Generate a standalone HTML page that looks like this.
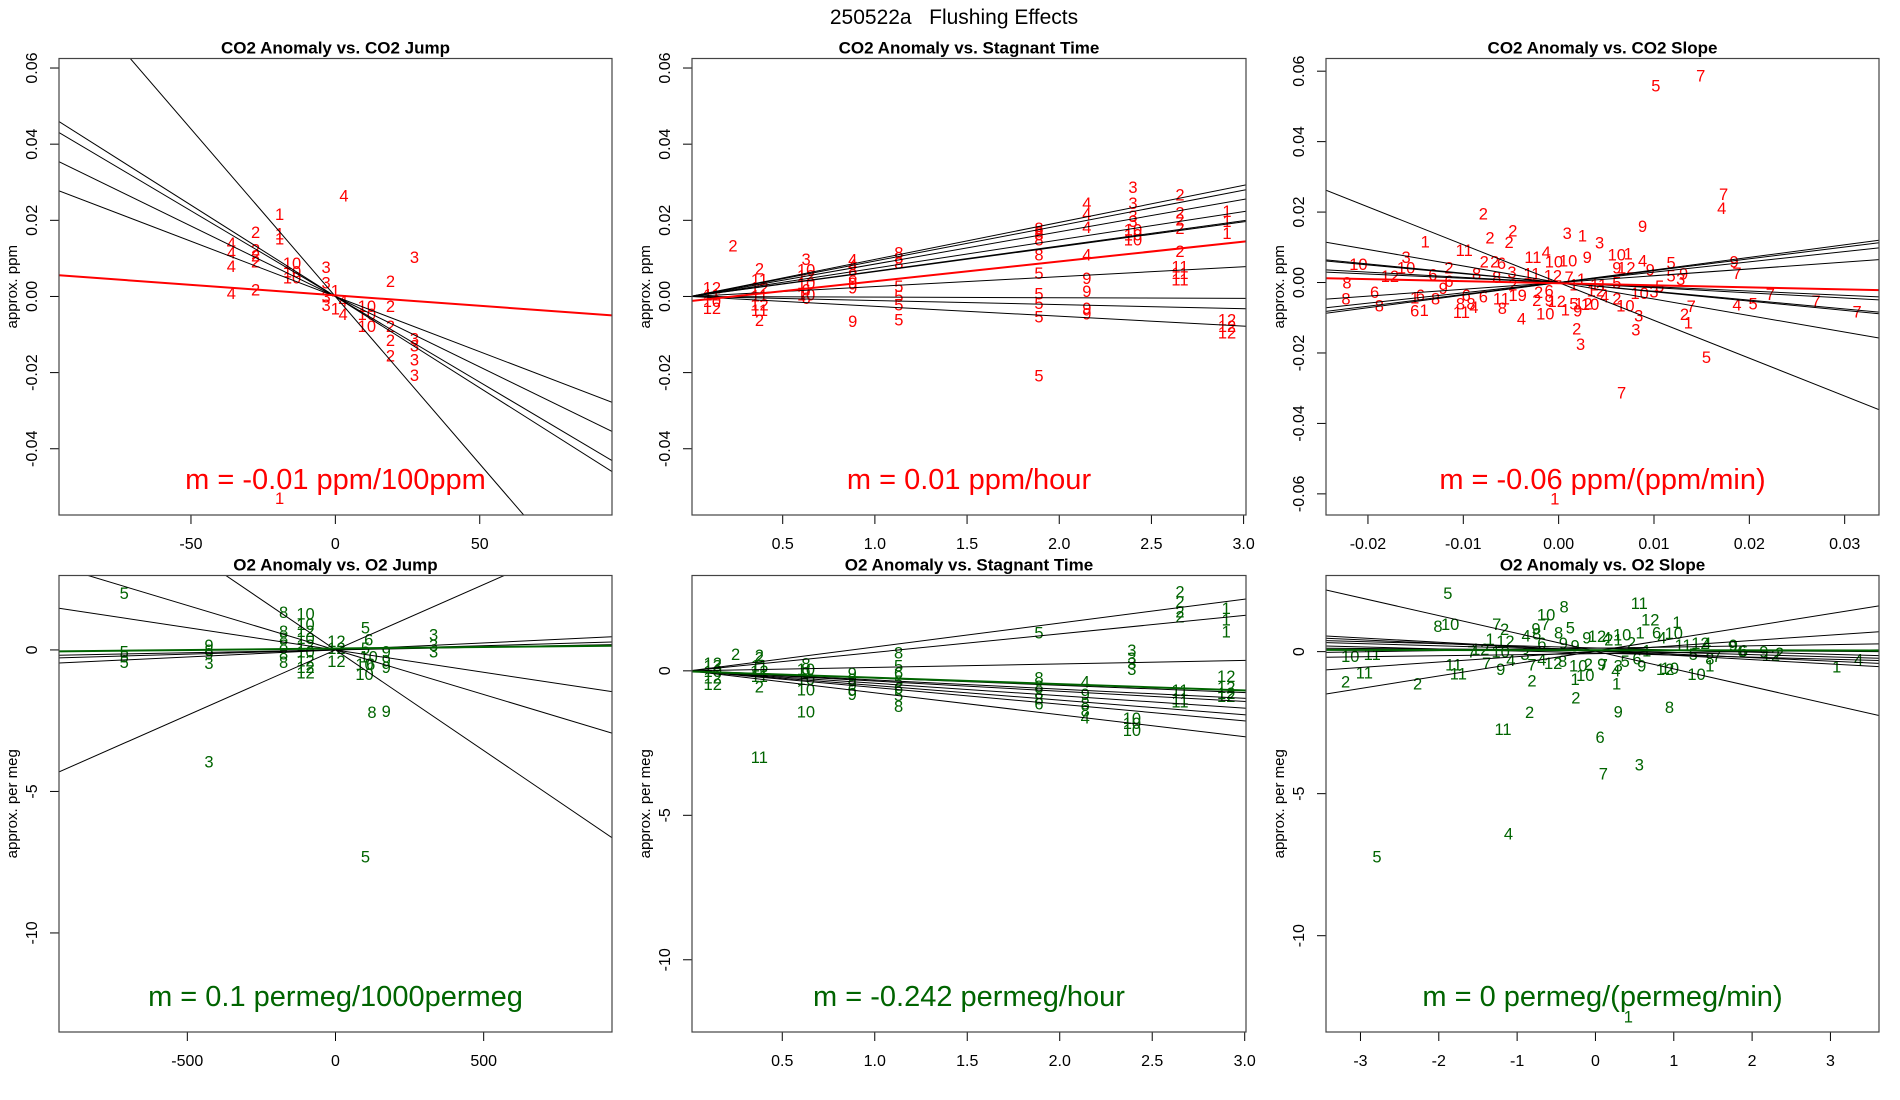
<!DOCTYPE html>
<html><head><meta charset="utf-8"><title>250522a Flushing Effects</title>
<style>
html,body{margin:0;padding:0;background:#fff;}
svg{display:block;font-family:"Liberation Sans",Arial,sans-serif;}
</style></head>
<body>
<svg id="chart" width="1900" height="1100" viewBox="0 0 1900 1100" xmlns="http://www.w3.org/2000/svg">
<text x="954" y="24" text-anchor="middle" font-size="21" xml:space="preserve">250522a   Flushing Effects</text>
</svg>
<script>
// ---------- Panel 1: CO2 Anomaly vs CO2 Jump ----------
const p1Labels=[4,1,1,1,2,4,4,4,4,2,2,2,2,10,10,10,3,3,1,3,3,1,4,4,3,2,2,10,10,10,2,2,2,3,3,3,3,1];
const p1X=[3,-19.3,-19.3,-19.3,-27.6,-36,-36,-36,-36,-27.6,-27.6,-27.6,-27.6,-15,-15,-15,-3.2,-3.2,0,-3.2,-3.2,0,2.7,2.7,27.4,19.1,19.1,10.9,10.9,10.9,19.1,19.1,19.1,27.4,27.4,27.4,27.4,-19.3];
const p1Y=[0.0265,0.0217,0.0166,0.0152,0.0169,0.0141,0.0115,0.008,0.0009,0.0123,0.0108,0.0092,0.0018,0.0088,0.0065,0.005,0.0078,0.0037,0.0016,0,-0.0023,-0.0032,-0.001,-0.0046,0.0104,0.0041,-0.0025,-0.0025,-0.0046,-0.0078,-0.0077,-0.0115,-0.0155,-0.011,-0.0129,-0.0166,-0.0206,-0.053];
const p1LineSlopes=[-0.00088,-0.00048,-0.00045,-0.00037,-0.00029];
const p1LineIntercepts=[0,0,0,0,0];
const p1Fit=[0.0003,-0.000055];
const p1XTicks=[-50,0,50];
const p1YTicks=[-0.04,-0.02,0,0.02,0.04,0.06];

// ---------- Panel 2: CO2 Anomaly vs Stagnant Time ----------
const p2Labels=[12,11,10,12,2,2,11,12,11,12,11,2,3,10,12,10,6,10,6,4,4,8,8,9,9,9,8,8,8,5,5,5,5,8,8,8,8,8,5,5,5,5,5,4,4,4,4,9,9,9,9,3,3,3,3,10,10,10,2,2,2,2,2,11,11,11,1,1,1,12,12,12];
const p2X=[0.116,0.116,0.116,0.116,0.23,0.374,0.374,0.374,0.374,0.374,0.374,0.374,0.627,0.627,0.627,0.627,0.627,0.627,0.627,0.88,0.88,0.88,0.88,0.88,0.88,0.88,1.13,1.13,1.13,1.13,1.13,1.13,1.13,1.89,1.89,1.89,1.89,1.89,1.89,1.89,1.89,1.89,1.89,2.15,2.15,2.15,2.15,2.15,2.15,2.15,2.15,2.40,2.40,2.40,2.40,2.40,2.40,2.40,2.655,2.655,2.655,2.655,2.655,2.655,2.655,2.655,2.91,2.91,2.91,2.91,2.91,2.91];
const p2Y=[0.0023,0.0005,-0.0012,-0.003,0.0134,0.0073,0.0045,0.0023,0.0003,-0.0021,-0.0035,-0.0062,0.0099,0.0071,0.0055,0.0036,0.0018,0.0005,-0.0004,0.0097,0.0084,0.0071,0.0054,0.0036,0.0023,-0.0065,0.0115,0.0102,0.0088,0.0027,0.0001,-0.0021,-0.006,0.018,0.0171,0.0163,0.015,0.011,0.0062,0.0008,-0.0017,-0.0052,-0.0207,0.0246,0.0218,0.0183,0.011,0.0049,0.0014,-0.003,-0.0045,0.0288,0.0246,0.0211,0.0198,0.0176,0.0163,0.015,0.0268,0.022,0.0202,0.018,0.0119,0.0079,0.0062,0.0045,0.0224,0.0198,0.0167,-0.006,-0.0078,-0.0095];
const p2LineSlopes=[0.00973,0.0093,0.0085,0.00743,0.00663,0.00653,0.0026,-0.00017,-0.00107,-0.0026];
const p2LineIntercepts=[0,0,0,0,0,0,0,0,0,0];
const p2Fit=[-0.0012,0.0052];
const p2XTicks=[0.5,1.0,1.5,2.0,2.5,3.0];
const p2YTicks=[-0.04,-0.02,0,0.02,0.04,0.06];

// ---------- Panel 3: CO2 Anomaly vs CO2 Slope ----------
const p3Labels=[5,7,7,4,9,2,2,2,2,1,3,1,3,11,11,4,10,10,9,10,1,4,5,9,7,10,3,10,12,2,6,8,6,8,2,2,6,8,3,11,12,7,1,9,12,9,5,9,3,5,3,10,8,6,8,1,6,6,1,9,8,6,8,8,4,11,6,11,8,19,2,4,2,2,6,9,12,10,1,5,9,12,10,12,4,11,2,10,3,3,2,3,7,2,1,4,5,7,7,7,5,7,1,5,1];
const p3X=[0.0102,0.0149,0.0173,0.0171,0.0088,-0.0079,-0.0072,-0.0048,-0.0052,-0.014,0.0009,0.0025,0.0043,-0.0099,-0.0027,-0.0013,-0.0005,0.001,0.003,0.0061,0.0073,0.0088,0.0118,0.0184,0.0187,-0.021,-0.016,-0.016,-0.0177,-0.0115,-0.0132,-0.0222,-0.0115,-0.0086,-0.0078,-0.0067,-0.006,-0.0065,-0.0049,-0.0028,-0.0006,0.0011,0.0024,0.0061,0.0071,0.0096,0.0118,0.0131,0.0128,0.0106,0.01,0.0085,-0.0223,-0.0193,-0.0188,-0.0151,-0.0145,-0.0151,-0.0141,-0.0121,-0.0129,-0.0097,-0.0103,-0.0092,-0.0089,-0.0102,-0.0079,-0.006,-0.0059,-0.0043,-0.0048,-0.0039,-0.0021,-0.0023,-0.001,-0.001,-0.0002,-0.0014,0.0007,0.0016,0.002,0.0026,0.0033,0.0039,0.0048,0.0042,0.0061,0.007,0.0084,0.0081,0.0019,0.0023,0.0139,0.0132,0.0136,0.0187,0.0204,0.0222,0.027,0.0313,0.0155,0.0066,-0.0004,0.0061,0.0016];
const p3Y=[0.056,0.0588,0.0251,0.0211,0.0161,0.0196,0.0128,0.0147,0.0115,0.0117,0.014,0.0133,0.0113,0.0092,0.0073,0.0087,0.006,0.0063,0.0072,0.008,0.0083,0.0062,0.0057,0.006,0.0027,0.0053,0.0072,0.0043,0.0018,0.0043,0.0023,0,0.0005,0.0025,0.006,0.006,0.0055,0.0015,0.003,0.0025,0.002,0.0015,0.001,0.0043,0.0043,0.0037,0.002,0.0025,0.001,-0.001,-0.0025,-0.003,-0.0045,-0.0027,-0.0065,-0.0043,-0.0035,-0.008,-0.0078,-0.0015,-0.0045,-0.0035,-0.006,-0.006,-0.007,-0.0083,-0.004,-0.0045,-0.0073,-0.0035,-0.0005,-0.0102,-0.0027,-0.005,-0.0023,-0.005,-0.0053,-0.0088,-0.0077,-0.006,-0.008,-0.006,-0.0061,-0.0023,-0.004,-0.0005,-0.0045,-0.0065,-0.0093,-0.0133,-0.013,-0.0174,-0.0067,-0.009,-0.0113,-0.0062,-0.006,-0.0032,-0.0052,-0.0082,-0.0211,-0.0312,-0.0613,0,-0.0005];
const p3LineSlopes=[-1.074,-0.469,-0.264,-0.25,-0.147,-0.121,0.193,0.293,0.336,0.357];
const p3LineIntercepts=[0,0,0,0,0,0,0,0,0,0];
const p3Fit=[-0.0002,-0.0586];
const p3XTicks=[-0.02,-0.01,0,0.01,0.02,0.03];
const p3YTicks=[-0.06,-0.04,-0.02,0,0.02,0.04,0.06];

// ---------- Panel 4: O2 Anomaly vs O2 Jump ----------
const p4Labels=[5,5,5,5,9,8,9,3,3,8,8,8,8,8,8,10,10,12,10,12,10,12,12,12,12,12,12,5,5,6,10,10,10,6,9,9,9,8,9,5,3,3,3];
const p4X=[-713,-713,-713,-713,-427,-427,-427,-427,-427,-175,-175,-175,-175,-175,-175,-101,-101,-101,-101,-101,-101,-101,-101,-101,3,3,3,101,101,112,98,98,112,119,171,171,171,123,171,101,331,331,331];
const p4Y=[2.01,-0.06,-0.24,-0.43,0.18,0,-0.12,-0.46,-3.94,1.34,0.67,0.43,0.18,-0.12,-0.43,1.28,0.92,0.67,0.43,0.18,-0.06,-0.37,-0.61,-0.79,0.31,0.06,-0.39,0.79,0.06,0.37,-0.49,-0.85,-0.24,-0.49,-0.06,-0.37,-0.61,-2.2,-2.16,-7.3,0.55,0.18,-0.06];
const p4LineSlopes=[-0.00711,0.00462,-0.00315,-0.00158,0.000497,0.0003,0.0002];
const p4LineIntercepts=[0,0,0,0,0,0,0];
const p4Fit=[0.05,0.000107];
const p4XTicks=[-500,0,500];
const p4YTicks=[-10,-5,0];

// ---------- Panel 5: O2 Anomaly vs Stagnant Time ----------
const p5Labels=[12,13,10,12,12,2,2,2,11,12,11,2,8,10,9,10,10,10,9,9,9,6,9,8,5,6,5,6,5,8,5,8,8,8,8,6,4,9,8,8,4,11,3,3,3,3,10,10,10,2,2,2,2,11,11,11,1,1,1,12,12,12,12];
const p5X=[0.124,0.124,0.124,0.124,0.124,0.248,0.376,0.376,0.376,0.376,0.376,0.376,0.628,0.628,0.628,0.628,0.628,0.628,0.878,0.878,0.878,0.878,0.878,1.129,1.129,1.129,1.129,1.129,1.129,1.129,1.888,1.888,1.888,1.888,1.888,1.888,2.138,2.138,2.138,2.138,2.138,0.376,2.39,2.39,2.39,2.39,2.39,2.39,2.39,2.65,2.65,2.65,2.65,2.65,2.65,2.65,2.9,2.9,2.9,2.9,2.9,2.9,2.9];
const p5Y=[0.27,0.19,-0.01,-0.23,-0.45,0.58,0.55,0.47,0.19,0,-0.17,-0.55,0.25,0.07,-0.05,-0.29,-0.65,-1.4,-0.07,-0.29,-0.47,-0.65,-0.8,0.63,0.19,-0.05,-0.35,-0.59,-0.83,-1.22,1.33,-0.23,-0.53,-0.77,-0.95,-1.13,-0.37,-0.8,-1.13,-1.37,-1.61,-2.99,0.73,0.44,0.27,0.06,-1.64,-1.81,-2.04,2.75,2.4,2.06,1.88,-0.66,-0.95,-1.06,2.17,1.77,1.36,-0.17,-0.56,-0.77,-0.87];
const p5LineSlopes=[0.827,0.64,0.12,-0.25,-0.317,-0.353,-0.43,-0.507,-0.577,-0.76];
const p5LineIntercepts=[0,0,0,0,0,0,0,0,0,0];
const p5Fit=[-0.02,-0.22];
const p5XTicks=[0.5,1.0,1.5,2.0,2.5,3.0];
const p5YTicks=[-10,-5,0];

// ---------- Panel 6: O2 Anomaly vs O2 Slope ----------
const p6Labels=[5,8,10,7,2,10,7,8,5,11,12,1,4,9,8,6,1,12,7,12,8,9,9,9,12,4,10,21,2,1,6,4,10,11,12,4,9,6,10,11,2,11,2,11,11,7,9,10,4,3,7,4,12,8,10,10,2,1,2,9,7,3,4,1,5,6,9,1,12,10,8,9,2,2,11,6,7,3,4,5,1,10,1,5,9,12,1,4,9,6,7,8,2];
const p6X=[-1.885,-2.01,-1.855,-1.26,-1.16,-0.63,-0.64,-0.4,-0.32,0.56,0.7,1.04,-0.885,-0.76,-0.75,-0.685,-1.345,-1.15,-1.58,-1.47,-0.47,-0.41,-0.26,-0.11,0.02,0.145,0.34,0.23,0.46,0.57,0.78,0.85,1.0,1.12,1.34,1.42,1.76,1.89,-3.13,-2.85,-3.19,-2.95,-2.27,-1.81,-1.75,-1.39,-1.21,-1.21,-1.08,-0.9,-0.81,-0.685,-0.54,-0.42,-0.22,-0.13,-0.25,-0.26,-0.09,0.08,0.1,0.29,0.26,0.27,0.38,0.53,0.59,0.655,0.89,0.95,0.945,0.29,-0.81,-0.84,-1.18,0.06,0.1,0.56,-1.11,-2.79,0.42,1.29,1.46,1.25,2.15,2.24,3.08,3.36,1.75,1.87,1.55,1.46,2.35];
const p6Y=[2.07,0.91,0.98,0.98,0.79,1.3,0.98,1.58,0.85,1.71,1.13,1.04,0.57,0.82,0.63,0.31,0.45,0.37,0,0.09,0.67,0.31,0.21,0.49,0.55,0.49,0.61,0.43,0.33,0.67,0.67,0.49,0.65,0.24,0.31,0.31,0.24,0.04,-0.16,-0.08,-1.06,-0.73,-1.12,-0.45,-0.77,-0.4,-0.62,0,-0.3,-0.08,-0.45,-0.28,-0.4,-0.33,-0.49,-0.82,-1.62,-0.97,-0.43,-0.43,-0.45,-0.49,-0.67,-1.13,-0.33,-0.24,-0.49,0.04,-0.61,-0.57,-1.95,-2.1,-1.01,-2.13,-2.72,-3.0,-4.29,-3.98,-6.4,-7.21,-12.85,-0.79,-0.49,-0.08,0,-0.12,-0.53,-0.27,0.2,0.02,-0.15,-0.25,-0.05];
const p6LineSlopes=[-0.626,0.439,0.19,-0.153,-0.125,-0.075,-0.078,-0.072,-0.017,0.037,0.042];
const p6LineIntercepts=[0.017,0.02,0.013,0.024,0.04,0.13,0.05,-0.05,0.06,-0.07,0.12];
const p6Fit=[0.05,-0.003];
const p6XTicks=[-3,-2,-1,0,1,2,3];
const p6YTicks=[-10,-5,0];

const NS="http://www.w3.org/2000/svg";
const svg=document.getElementById('chart');
function mk(tag,attrs,parent){const e=document.createElementNS(NS,tag);for(const k in attrs)e.setAttribute(k,attrs[k]);(parent||svg).appendChild(e);return e;}

const panels=[
 {id:'p1',title:'CO2 Anomaly vs. CO2 Jump',box:[59,58.5,612,515],xlim:[-95.7,95.8],ylim:[-0.0574,0.0625],labels:p1Labels,xs:p1X,ys:p1Y,sl:p1LineSlopes,ic:p1LineIntercepts,fit:p1Fit,xt:p1XTicks,yt:p1YTicks,xd:0,yd:2,col:'#ff0000',ylab:'approx. ppm',m:'m = -0.01 ppm/100ppm'},
 {id:'p2',title:'CO2 Anomaly vs. Stagnant Time',box:[692,58.5,1246,515],xlim:[0.008,3.013],ylim:[-0.0574,0.0625],labels:p2Labels,xs:p2X,ys:p2Y,sl:p2LineSlopes,ic:p2LineIntercepts,fit:p2Fit,xt:p2XTicks,yt:p2YTicks,xd:1,yd:2,col:'#ff0000',ylab:'approx. ppm',m:'m = 0.01 ppm/hour'},
 {id:'p3',title:'CO2 Anomaly vs. CO2 Slope',box:[1326,58.5,1879,515],xlim:[-0.0244,0.0336],ylim:[-0.066,0.0636],labels:p3Labels,xs:p3X,ys:p3Y,sl:p3LineSlopes,ic:p3LineIntercepts,fit:p3Fit,xt:p3XTicks,yt:p3YTicks,xd:2,yd:2,col:'#ff0000',ylab:'approx. ppm',m:'m = -0.06 ppm/(ppm/min)'},
 {id:'p4',title:'O2 Anomaly vs. O2 Jump',box:[59,575.5,612,1032],xlim:[-933,933],ylim:[-13.5,2.63],labels:p4Labels,xs:p4X,ys:p4Y,sl:p4LineSlopes,ic:p4LineIntercepts,fit:p4Fit,xt:p4XTicks,yt:p4YTicks,xd:0,yd:0,col:'#006400',ylab:'approx. per meg',m:'m = 0.1 permeg/1000permeg'},
 {id:'p5',title:'O2 Anomaly vs. Stagnant Time',box:[692,575.5,1246,1032],xlim:[0.012,3.007],ylim:[-12.5,3.3],labels:p5Labels,xs:p5X,ys:p5Y,sl:p5LineSlopes,ic:p5LineIntercepts,fit:p5Fit,xt:p5XTicks,yt:p5YTicks,xd:1,yd:0,col:'#006400',ylab:'approx. per meg',m:'m = -0.242 permeg/hour'},
 {id:'p6',title:'O2 Anomaly vs. O2 Slope',box:[1326,575.5,1879,1032],xlim:[-3.44,3.62],ylim:[-13.39,2.68],labels:p6Labels,xs:p6X,ys:p6Y,sl:p6LineSlopes,ic:p6LineIntercepts,fit:p6Fit,xt:p6XTicks,yt:p6YTicks,xd:0,yd:0,col:'#006400',ylab:'approx. per meg',m:'m = 0 permeg/(permeg/min)'}
];

panels.forEach(p=>{
  const [L,T,R,B]=p.box;
  const sx=v=>L+(v-p.xlim[0])/(p.xlim[1]-p.xlim[0])*(R-L);
  const sy=v=>B-(v-p.ylim[0])/(p.ylim[1]-p.ylim[0])*(B-T);
  const g=mk('g',{});
  
  
  const cp=mk('clipPath',{id:'clip-'+p.id},g);
  mk('rect',{x:L,y:T,width:R-L,height:B-T},cp);
  const t=mk('text',{x:(L+R)/2,y:T-5,'text-anchor':'middle','font-size':17,'font-weight':'bold'},g);
  t.textContent=p.title;
  
  
  const xa=mk('g',{},g);
  
  
  mk('line',{x1:sx(p.xt[0]),x2:sx(p.xt[p.xt.length-1]),y1:B,y2:B,stroke:'#000','stroke-width':1},xa);
  p.xt.forEach(v=>{
    mk('line',{x1:sx(v),x2:sx(v),y1:B,y2:B+9,stroke:'#000','stroke-width':1},xa);
    const tx=mk('text',{x:sx(v),y:B+34,'text-anchor':'middle','font-size':16},xa);
    tx.textContent=v.toFixed(p.xd);
    
    
  });
  const ya=mk('g',{},g);
  
  
  mk('line',{x1:L,x2:L,y1:sy(p.yt[0]),y2:sy(p.yt[p.yt.length-1]),stroke:'#000','stroke-width':1},ya);
  p.yt.forEach(v=>{
    mk('line',{x1:L,x2:L-9,y1:sy(v),y2:sy(v),stroke:'#000','stroke-width':1},ya);
    const ty=mk('text',{x:L-22,y:sy(v),'text-anchor':'middle','font-size':16,transform:'rotate(-90 '+(L-22)+' '+sy(v)+')'},ya);
    ty.textContent=v.toFixed(p.yd);
    
    
  });
  const yl=mk('text',{x:L-42,y:(T+B)/2,'text-anchor':'middle','font-size':15,transform:'rotate(-90 '+(L-42)+' '+((T+B)/2)+')'},ya);
  yl.textContent=p.ylab;
  
  
  const pg=mk('g',{'clip-path':'url(#clip-'+p.id+')'},g);
  p.labels.forEach((lab,i)=>{
    const tp=mk('text',{x:sx(p.xs[i]),y:sy(p.ys[i])+6,'text-anchor':'middle','font-size':16.5,fill:p.col},pg);
    tp.textContent=String(lab);
    
    
  });
  p.sl.forEach((s,i)=>{
    const a=p.xlim[0],b=p.xlim[1];
    const ln=mk('line',{x1:sx(a),y1:sy(p.ic[i]+s*a),x2:sx(b),y2:sy(p.ic[i]+s*b),stroke:'#000','stroke-width':1},pg);
    
    
  });
  {
    const a=p.xlim[0],b=p.xlim[1];
    const fl=mk('line',{x1:sx(a),y1:sy(p.fit[0]+p.fit[1]*a),x2:sx(b),y2:sy(p.fit[0]+p.fit[1]*b),stroke:p.col,'stroke-width':2},pg);
    
    
  }
  const mt=mk('text',{x:(L+R)/2,y:B-26,'text-anchor':'middle','font-size':29,fill:p.col},g);
  mt.textContent=p.m;
  
  
  const bx=mk('rect',{x:L,y:T,width:R-L,height:B-T,fill:'none',stroke:'#444','stroke-width':1.2},g);
  
  
});
</script>
</body></html>
